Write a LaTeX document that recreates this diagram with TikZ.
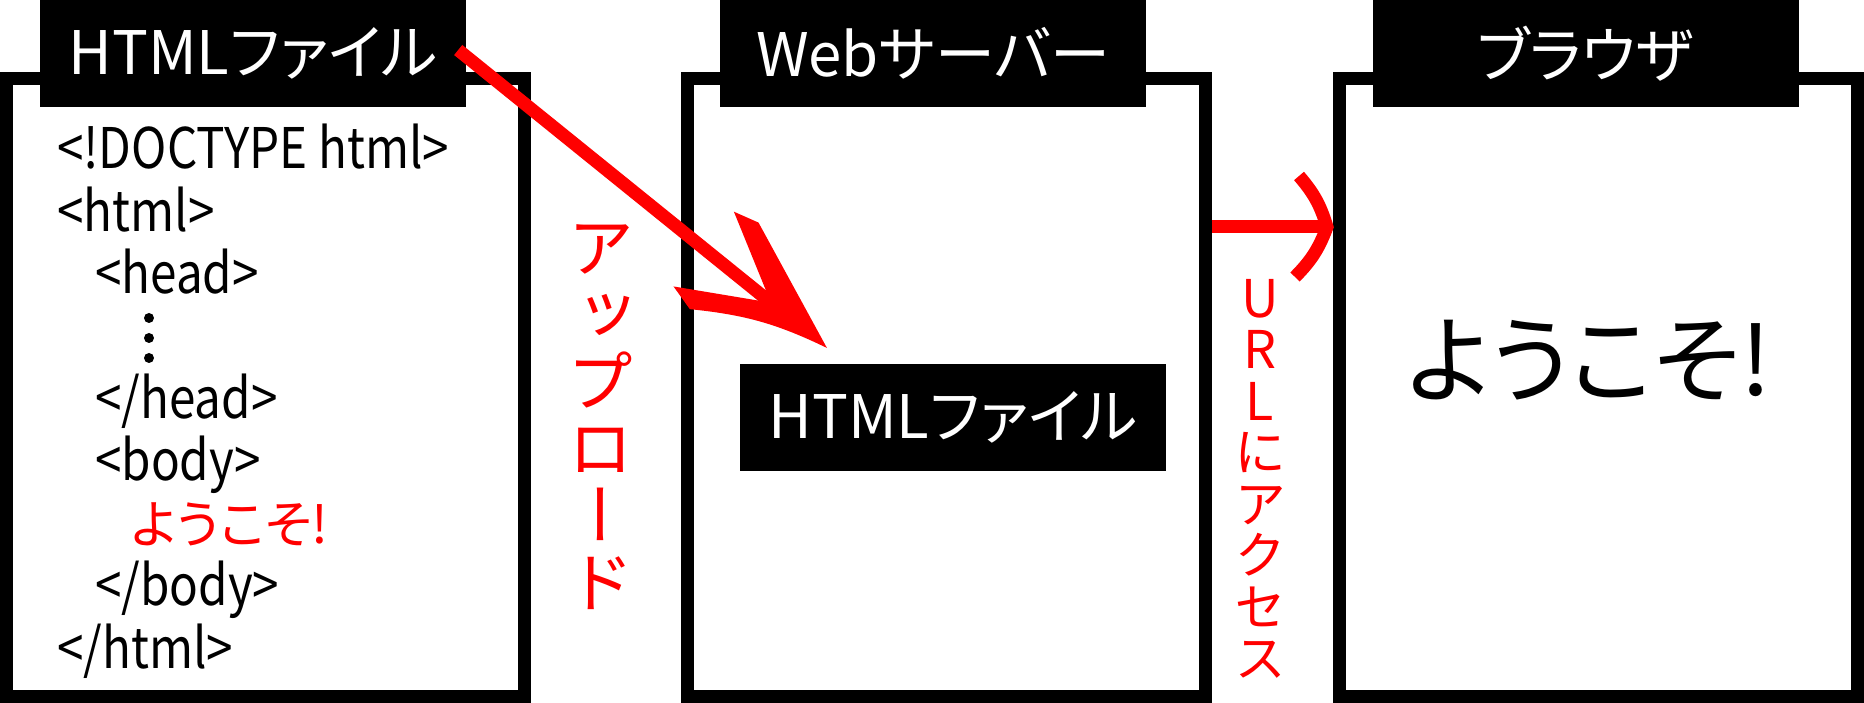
\documentclass[tikz,border=0pt]{standalone}
\usepackage{fontspec}
\setmainfont{Noto Sans CJK JP}[RawFeature=+palt]
\newfontfamily\codefont{Noto Sans CJK JP}[FakeStretch=0.85]
\newfontfamily\tatefont{Noto Sans CJK JP}[RawFeature=+vert]
\usetikzlibrary{decorations.markings}
\begin{document}
\begin{tikzpicture}[x=1pt,y=1pt,
	panel/.style={draw,line width=13pt,minimum width=518pt,minimum height=618pt,inner sep=0pt},
	tab/.style={fill=black,text=white,minimum width=426pt,minimum height=107pt,inner sep=0pt,font=\fontsize{60pt}{60pt}\selectfont},
	code/.style={anchor=base west,inner sep=0pt,font=\codefont\fontsize{56pt}{56pt}\selectfont},
	tate/.style={red,align=center,inner sep=0pt},
	arrowline/.style={red,line width=13pt}]
		\useasboundingbox (0,0) rectangle (1864,703);
		\node[panel] (file) at (265.5,315.5) {};
		\node[panel] (server) at (946,315.5) {};
		\node[panel] (browser) at (1598.5,315.5) {};
		\node[tab] (filetab) at (253,649.5) {HTMLファイル};
		\node[tab] (servertab) at (933,649.5) {Webサーバー};
		\node[tab] (browsertab) at (1585.5,649.5) {ブラウザ};
		\node[tab] (upfile) at (953,285.5) {HTMLファイル};
		\node[code] (c0) at (57,534) {<!DOCTYPE html>};
		\node[code] (c1) at (57,471.6) {<html>};
		\node[code] (c2) at (95,409.2) {<head>};
		\foreach \i in {0,1,2}
			\fill (149,385-20*\i) circle (5pt);
		\node[code] (c4) at (95,284.4) {</head>};
		\node[code] (c5) at (95,222) {<body>};
		\node[code,red,font=\fontsize{52pt}{52pt}\selectfont] (c6) at (131,159.6) {ようこそ!};
		\node[code] (c7) at (95,97.2) {</body>};
		\node[code] (c8) at (57,34.8) {</html>};
		\node[font=\fontsize{96pt}{96pt}\selectfont] (welcome) at (1589,343) {ようこそ!};
		\node[tate,font=\tatefont\fontsize{67pt}{67pt}\selectfont] (upload) at (601,286) {ア\\ッ\\プ\\ロ\\ー\\ド};
		\node[tate,font=\tatefont\fontsize{52pt}{51.5pt}\selectfont] (access) at (1260,224) {U\\R\\L\\に\\ア\\ク\\セ\\ス};
		\coordinate (upstart) at ([xshift=-8pt,yshift=3.5pt]filetab.east);
		\coordinate (uptip) at (827,355);
		\draw[arrowline,shorten >=65pt] (upstart) -- (uptip);
		\path[decorate,decoration={markings,mark=at position 1 with {
			\fill[red] (0pt,0pt) -- (-132pt,54.5pt) -- (-158pt,47.5pt) -- (-72pt,0pt) -- (-158pt,-48.6pt) -- (-131pt,-56pt) to[bend left=10] (0pt,0pt) -- cycle;}}]
			(upstart) -- (uptip);
		\coordinate (urly) at (0,476);
		\coordinate (urltip) at (browser.west |- urly);
		\draw[arrowline,shorten >=8pt] (server.east |- urly) -- (urltip);
		\path[decorate,decoration={markings,mark=at position 1 with {
			\draw[arrowline,line join=miter] (-34pt,51pt) to[bend left=12] (-6pt,0pt) to[bend left=12] (-38pt,-50pt);}}]
			(server.east |- urly) -- (urltip);
\end{tikzpicture}
\end{document}
